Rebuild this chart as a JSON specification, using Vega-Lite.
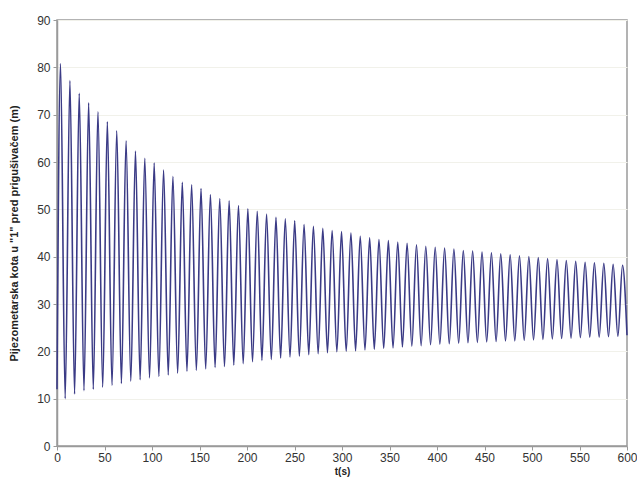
{
  "$schema": "https://vega.github.io/schema/vega-lite/v6.json",
  "width": 570,
  "height": 426,
  "autosize": "none",
  "padding": {"left": 57, "top": 20, "right": 10, "bottom": 45},
  "background": "white",
  "config": {
    "view": {"stroke": "#9a9a9a", "strokeWidth": 1.5},
    "font": "Liberation Sans"
  },
  "data": {
    "values": [
      {"t": 0, "h": 12.0},
      {"t": 3.7, "h": 80.8}, {"t": 8.6, "h": 10.0},
      {"t": 13.6, "h": 77.2}, {"t": 18.5, "h": 11.0},
      {"t": 23.4, "h": 74.5}, {"t": 28.4, "h": 11.7},
      {"t": 33.3, "h": 72.5}, {"t": 38.2, "h": 12.0},
      {"t": 43.1, "h": 70.6}, {"t": 48.1, "h": 12.4},
      {"t": 53.0, "h": 68.5}, {"t": 57.9, "h": 12.8},
      {"t": 62.9, "h": 66.6}, {"t": 67.8, "h": 13.2},
      {"t": 72.7, "h": 64.5}, {"t": 77.7, "h": 13.7},
      {"t": 82.6, "h": 62.3}, {"t": 87.5, "h": 14.0},
      {"t": 92.4, "h": 60.8}, {"t": 97.4, "h": 14.4},
      {"t": 102.3, "h": 59.8}, {"t": 107.2, "h": 14.7},
      {"t": 112.2, "h": 58.3}, {"t": 117.1, "h": 15.0},
      {"t": 122.0, "h": 56.9}, {"t": 127.0, "h": 15.4},
      {"t": 131.9, "h": 55.7}, {"t": 136.8, "h": 15.8},
      {"t": 141.7, "h": 55.2}, {"t": 146.7, "h": 16.0},
      {"t": 151.6, "h": 54.4}, {"t": 156.5, "h": 16.3},
      {"t": 161.5, "h": 53.1}, {"t": 166.4, "h": 16.6},
      {"t": 171.3, "h": 52.3}, {"t": 176.3, "h": 16.8},
      {"t": 181.2, "h": 51.8}, {"t": 186.1, "h": 17.1},
      {"t": 191.0, "h": 50.8}, {"t": 196.0, "h": 17.4},
      {"t": 200.9, "h": 50.1}, {"t": 205.8, "h": 17.8},
      {"t": 210.8, "h": 49.6}, {"t": 215.7, "h": 18.1},
      {"t": 220.6, "h": 49.0}, {"t": 225.6, "h": 18.3},
      {"t": 230.5, "h": 48.3}, {"t": 235.4, "h": 18.6},
      {"t": 240.3, "h": 48.0}, {"t": 245.3, "h": 18.8},
      {"t": 250.2, "h": 47.6}, {"t": 255.1, "h": 19.0},
      {"t": 260.1, "h": 46.8}, {"t": 265.0, "h": 19.3},
      {"t": 269.9, "h": 46.4}, {"t": 274.9, "h": 19.5},
      {"t": 279.8, "h": 46.0}, {"t": 284.7, "h": 19.7},
      {"t": 289.6, "h": 45.5}, {"t": 294.6, "h": 19.9},
      {"t": 299.5, "h": 45.3}, {"t": 304.4, "h": 20.0},
      {"t": 309.4, "h": 45.0}, {"t": 314.3, "h": 20.1},
      {"t": 319.2, "h": 44.3}, {"t": 324.2, "h": 20.3},
      {"t": 329.1, "h": 44.0}, {"t": 334.0, "h": 20.4},
      {"t": 338.9, "h": 43.6}, {"t": 343.9, "h": 20.6},
      {"t": 348.8, "h": 43.4}, {"t": 353.7, "h": 20.7},
      {"t": 358.7, "h": 43.1}, {"t": 363.6, "h": 20.9},
      {"t": 368.5, "h": 42.8}, {"t": 373.5, "h": 21.1},
      {"t": 378.4, "h": 42.5}, {"t": 383.3, "h": 21.2},
      {"t": 388.2, "h": 42.2}, {"t": 393.2, "h": 21.4},
      {"t": 398.1, "h": 42.0}, {"t": 403.0, "h": 21.5},
      {"t": 408.0, "h": 41.8}, {"t": 412.9, "h": 21.6},
      {"t": 417.8, "h": 41.6}, {"t": 422.8, "h": 21.7},
      {"t": 427.7, "h": 41.3}, {"t": 432.6, "h": 21.8},
      {"t": 437.5, "h": 41.2}, {"t": 442.5, "h": 21.9},
      {"t": 447.4, "h": 41.0}, {"t": 452.3, "h": 22.0},
      {"t": 457.3, "h": 40.8}, {"t": 462.2, "h": 22.1},
      {"t": 467.1, "h": 40.6}, {"t": 472.1, "h": 22.2},
      {"t": 477.0, "h": 40.4}, {"t": 481.9, "h": 22.2},
      {"t": 486.8, "h": 40.2}, {"t": 491.8, "h": 22.3},
      {"t": 496.7, "h": 40.0}, {"t": 501.6, "h": 22.4},
      {"t": 506.6, "h": 39.8}, {"t": 511.5, "h": 22.5},
      {"t": 516.4, "h": 39.6}, {"t": 521.4, "h": 22.6},
      {"t": 526.3, "h": 39.4}, {"t": 531.2, "h": 22.7},
      {"t": 536.1, "h": 39.2}, {"t": 541.1, "h": 22.8},
      {"t": 546.0, "h": 39.0}, {"t": 550.9, "h": 22.9},
      {"t": 555.9, "h": 38.8}, {"t": 560.8, "h": 23.0},
      {"t": 565.7, "h": 38.7}, {"t": 570.7, "h": 23.0},
      {"t": 575.6, "h": 38.6}, {"t": 580.5, "h": 23.1},
      {"t": 585.4, "h": 38.4}, {"t": 590.4, "h": 23.2},
      {"t": 595.3, "h": 38.2}, {"t": 600.0, "h": 23.4}
    ]
  },
  "mark": {"type": "line", "interpolate": "monotone", "color": "#3b3b86", "strokeWidth": 1.6},
  "encoding": {
    "x": {
      "field": "t", "type": "quantitative",
      "scale": {"domain": [0, 600], "nice": false, "zero": false},
      "axis": {
        "title": "t(s)", "values": [0, 50, 100, 150, 200, 250, 300, 350, 400, 450, 500, 550, 600],
        "grid": false, "domainColor": "#9a9a9a", "domainWidth": 1.5,
        "tickColor": "#9a9a9a", "tickSize": 4,
        "labelFont": "Liberation Sans", "labelFontSize": 12, "labelColor": "#333333", "labelPadding": 2,
        "labelFlush": false,
        "titleFont": "Liberation Sans", "titleFontSize": 10, "titleFontWeight": "bold", "titleColor": "#222222",
        "titlePadding": 3
      }
    },
    "y": {
      "field": "h", "type": "quantitative",
      "scale": {"domain": [0, 90], "nice": false},
      "axis": {
        "title": "Pijezometarska kota u \"1\" pred prigušivačem (m)",
        "values": [0, 10, 20, 30, 40, 50, 60, 70, 80, 90],
        "grid": true, "gridColor": "#f1f1ea", "gridWidth": 1,
        "domainColor": "#9a9a9a", "domainWidth": 1.5,
        "tickColor": "#9a9a9a", "tickSize": 4,
        "labelFont": "Liberation Sans", "labelFontSize": 12, "labelColor": "#333333", "labelPadding": 3,
        "titleFont": "Liberation Sans", "titleFontSize": 11, "titleFontWeight": "bold", "titleColor": "#222222",
        "titlePadding": 17
      }
    }
  }
}
